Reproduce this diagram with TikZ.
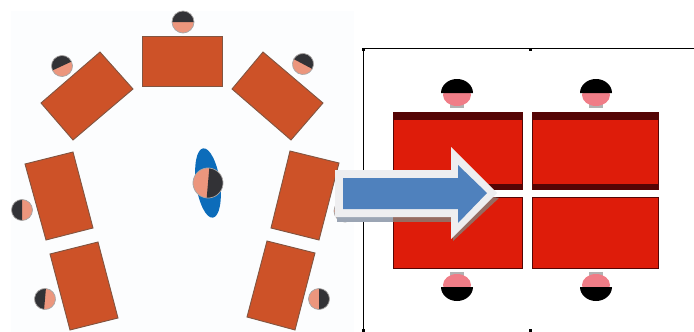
\documentclass[tikz,border=0pt]{standalone}
\usepackage{tikz}

\definecolor{deskorange}{RGB}{205,82,40}
\definecolor{deskedge}{RGB}{130,85,65}
\definecolor{skinpink}{RGB}{236,150,125}
\definecolor{hairdark}{RGB}{50,50,54}
\definecolor{deskred}{RGB}{222,28,10}
\definecolor{deskdark}{RGB}{85,5,5}
\definecolor{arrowblue}{RGB}{79,129,189}
\definecolor{arrowrim}{RGB}{238,238,240}
\definecolor{shadowbrown}{RGB}{150,108,98}
\definecolor{shadowgrey}{RGB}{155,165,180}
\definecolor{teacherblue}{RGB}{12,108,186}
\definecolor{redface}{RGB}{240,125,135}
\definecolor{paper}{RGB}{252,253,254}

\tikzset{
  desk/.style={fill=deskorange, draw=deskedge, line width=0.9pt, line join=miter},
  reddesk/.style={fill=deskred, draw=deskdark, line width=1pt},
  tick/.style={fill=black},
}

% x y radius angle-of-hair
\newcommand{\headmark}[4]{%
  \begin{scope}[shift={(#1,#2)}, rotate=#4]
    \fill[skinpink] (0,0) circle (#3);
    \fill[hairdark] (0,-#3) arc (-90:90:#3) -- cycle;
    \draw[gray!70, line width=0.7pt] (0,0) circle (#3);
  \end{scope}}

% x y up-or-down
\newcommand{\redhead}[3]{%
  \begin{scope}[shift={(#1,#2)}, yscale=#3]
    \fill[gray!60] (-7,10) rectangle (7,16);
    \fill[redface] (0,3) ellipse (14 and 11);
    \fill[black] (-16,1) arc (180:360:16 and 14) -- cycle;
  \end{scope}}

\begin{document}
\begin{tikzpicture}[x=1pt, y=-1pt]
  \useasboundingbox (0,0) rectangle (694,332);
  \fill[white] (0,0) rectangle (694,332);
  \fill[paper] (11,11) rectangle (354,332);

  % Left side: the horseshoe of desks
  \draw[desk] (142,36) -- (222,36) -- (222,86) -- (142,86) -- cycle;
  \draw[desk] (100,52) -- (133,89) -- (73,140) -- (41,103) -- cycle;
  \draw[desk] (263,52) -- (323,103) -- (291,140) -- (232,89) -- cycle;
  \draw[desk] (73,152) -- (93,228) -- (46,240) -- (25,164) -- cycle;
  \draw[desk] (290,151) -- (339,163) -- (319,240) -- (271,228) -- cycle;
  \draw[desk] (50,254) -- (98,242) -- (118,318) -- (70,330) -- cycle;
  \draw[desk] (267,241) -- (315,253) -- (295,330) -- (247,317) -- cycle;

  \headmark{183}{22}{11}{90}
  \headmark{62}{66}{10.5}{115}
  \headmark{303}{64}{10.5}{62}
  \headmark{22}{210}{10.5}{180}
  \headmark{45}{299}{10.5}{175}
  \headmark{319}{299}{10.5}{0}
  \headmark{345}{211}{11}{0}

  % Teacher in the middle
  \fill[teacherblue, rotate around={8:(208,183)}] (208,183) ellipse (12 and 35);
  \headmark{208}{183}{15}{-5}

  % Right side: frame
  \draw[black, line width=0.8pt] (694,48) -- (363,48) -- (363,331);
  \fill[tick] (362,48) rectangle (365,51);
  \fill[tick] (529,48) rectangle (532,51);
  \fill[tick] (362,329) rectangle (365,332);
  \fill[tick] (529,329) rectangle (532,332);

  % Right side: four desks
  \draw[reddesk] (393,112) rectangle (522,189);
  \draw[reddesk] (532,112) rectangle (658,189);
  \draw[reddesk] (393,197) rectangle (522,268);
  \draw[reddesk] (532,197) rectangle (658,268);
  \fill[deskdark] (393,112) rectangle (522,120);
  \fill[deskdark] (532,112) rectangle (658,120);
  \fill[deskdark] (393,184) rectangle (522,189);
  \fill[deskdark] (532,184) rectangle (658,189);

  \redhead{457}{92}{1}
  \redhead{596}{92}{1}
  \redhead{457}{288}{-1}
  \redhead{596}{288}{-1}

  % Big arrow with shadow, pale rim and blue core
  \fill[shadowgrey] (337,210) rectangle (393,222);
  \fill[shadowbrown] (393,210) -- (453,210) -- (453,222) -- (393,222) -- cycle;
  \fill[shadowbrown] (499,198) -- (453,241) -- (453,225) -- (480,195) -- cycle;
  \fill[arrowrim] (335,170) -- (451,170) -- (451,147) -- (497,193) -- (451,239) -- (451,217) -- (335,217) -- cycle;
  \fill[arrowblue] (343,178) -- (458,178) -- (458,165) -- (487,193) -- (458,223) -- (458,209) -- (343,209) -- cycle;
\end{tikzpicture}
\end{document}
